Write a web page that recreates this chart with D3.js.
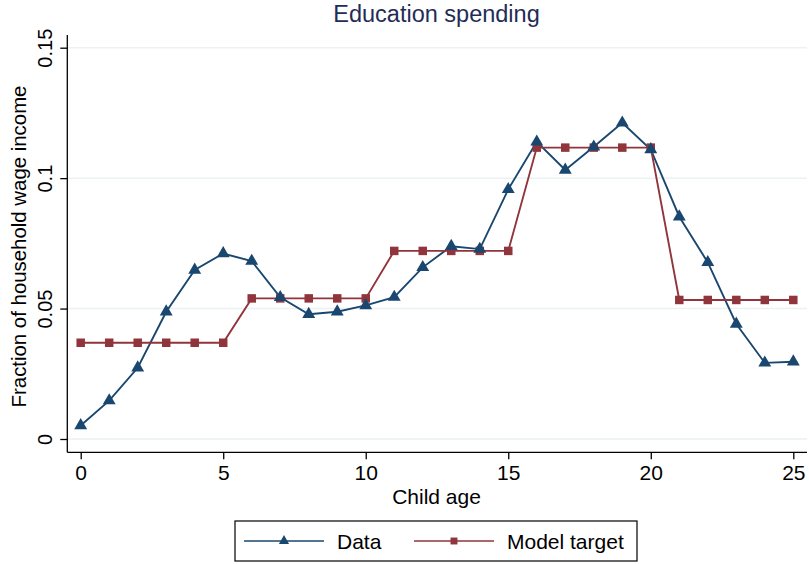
<!DOCTYPE html>
<html>
<head>
<meta charset="utf-8">
<script src="https://cdn.jsdelivr.net/npm/d3@7"></script>
<style>
  body { margin: 0; background: #fff; }
  svg text { font-family: "Liberation Sans", Arial, Helvetica, sans-serif; }
</style>
</head>
<body>
<svg id="chart" width="809" height="564"></svg>
<script>
// Child age 0..25
const ages = d3.range(0, 26);
// Observed education spending as a share of household wage income
const dataValues = [0.0052, 0.0147, 0.0273, 0.0488, 0.0648, 0.0711, 0.0682, 0.0543, 0.0478, 0.0488,
                    0.0512, 0.0544, 0.0658, 0.0739, 0.0728, 0.0957, 0.1139, 0.1031, 0.1120, 0.1212,
                    0.1110, 0.0852, 0.0677, 0.0441, 0.0292, 0.0296];
// Model target (piecewise constant by age band)
const modelValues = [0.0369, 0.0369, 0.0369, 0.0369, 0.0369, 0.0369,
                     0.0539, 0.0539, 0.0539, 0.0539, 0.0539,
                     0.0721, 0.0721, 0.0721, 0.0721, 0.0721,
                     0.1117, 0.1117, 0.1117, 0.1117, 0.1117,
                     0.0533, 0.0533, 0.0533, 0.0533, 0.0533];
const xTicks = [0, 5, 10, 15, 20, 25];
const yTicks = [0, 0.05, 0.1, 0.15];
const yTickLabels = ["0", "0.05", "0.1", "0.15"];
const seriesNames = ["Data", "Model target"];

const navy = "#1a476f", maroon = "#90353b", grid = "#eaf2f3";
const svg = d3.select("#chart");

const x = d3.scaleLinear().domain([0, 25]).range([80.7, 793.3]);
const y = d3.scaleLinear().domain([0, 0.15]).range([439, 47.7]);
const plotLeft = 67.3, plotRight = 807, plotBottom = 452.3, plotTop = 35;

// Title
svg.append("text").attr("x", 436.5).attr("y", 21.7).attr("text-anchor", "middle")
  .attr("font-size", 23.5).attr("fill", "#1f2d56").text("Education spending");

// Gridlines
svg.append("g").selectAll("line").data(yTicks).join("line")
  .attr("x1", plotLeft).attr("x2", plotRight)
  .attr("y1", d => y(d)).attr("y2", d => y(d))
  .attr("stroke", grid).attr("stroke-width", 1.5);

// Y axis
const yAxis = svg.append("g").attr("transform", `translate(${plotLeft},0)`)
  .call(d3.axisLeft(y).tickValues(yTicks).tickFormat((d, i) => yTickLabels[i])
        .tickSize(7).tickPadding(0));
yAxis.select(".domain").attr("d", `M0,${plotTop}V${plotBottom}`).attr("stroke", "#000").attr("stroke-width", 1.3);
yAxis.selectAll(".tick line").attr("stroke", "#000").attr("stroke-width", 1.3);
yAxis.selectAll(".tick text")
  .attr("font-size", 20).attr("fill", "#000")
  .attr("text-anchor", "middle").attr("dy", 0)
  .attr("transform", "translate(-15.6,0) rotate(-90)")
  .attr("x", 0).attr("y", 0);

// X axis
const xAxis = svg.append("g").attr("transform", `translate(0,${plotBottom})`)
  .call(d3.axisBottom(x).tickValues(xTicks).tickFormat(d3.format("d")).tickSize(7).tickPadding(0));
xAxis.select(".domain").attr("d", `M${plotLeft},0H${plotRight}`).attr("stroke", "#000").attr("stroke-width", 1.3);
xAxis.selectAll(".tick line").attr("stroke", "#000").attr("stroke-width", 1.3);
xAxis.selectAll(".tick text").attr("font-size", 21).attr("fill", "#000")
  .attr("dy", 0).attr("y", 27.7);

// Axis titles
svg.append("text").attr("x", 436.5).attr("y", 504).attr("text-anchor", "middle")
  .attr("font-size", 21).attr("fill", "#000").text("Child age");
svg.append("text").attr("transform", "translate(26,246.5) rotate(-90)").attr("text-anchor", "middle")
  .attr("font-size", 20.4).attr("fill", "#000").text("Fraction of household wage income");

// Lines
const line = d3.line().x((d, i) => x(ages[i])).y(d => y(d));
svg.append("path").datum(dataValues).attr("d", line)
  .attr("fill", "none").attr("stroke", navy).attr("stroke-width", 1.9);
svg.append("path").datum(modelValues).attr("d", line)
  .attr("fill", "none").attr("stroke", maroon).attr("stroke-width", 1.9);

const tri = d3.symbol().type(d3.symbolTriangle).size(72);
const sq = d3.symbol().type(d3.symbolSquare).size(72);

// Model markers (drawn under the data markers)
svg.append("g").selectAll("path").data(modelValues).join("path")
  .attr("d", sq).attr("transform", (d, i) => `translate(${x(ages[i])},${y(d)})`)
  .attr("fill", maroon);
svg.append("g").selectAll("path").data(dataValues).join("path")
  .attr("d", tri).attr("transform", (d, i) => `translate(${x(ages[i])},${y(d)})`)
  .attr("fill", navy);

// Legend
const lg = svg.append("g");
lg.append("rect").attr("x", 235).attr("y", 521).attr("width", 402).attr("height", 40)
  .attr("fill", "#fff").attr("stroke", "#000").attr("stroke-width", 1.2);
const items = [
  { name: seriesNames[0], color: navy, sym: d3.symbol().type(d3.symbolTriangle).size(45), x0: 244, tx: 337 },
  { name: seriesNames[1], color: maroon, sym: d3.symbol().type(d3.symbolSquare).size(48), x0: 414, tx: 507 }
];
items.forEach(it => {
  lg.append("line").attr("x1", it.x0).attr("x2", it.x0 + 80).attr("y1", 541).attr("y2", 541)
    .attr("stroke", it.color).attr("stroke-width", 1.6);
  lg.append("path").attr("d", it.sym).attr("transform", `translate(${it.x0 + 40},541)`).attr("fill", it.color);
  lg.append("text").attr("x", it.tx).attr("y", 548.5).attr("font-size", 21).attr("fill", "#000").text(it.name);
});
</script>
</body>
</html>
